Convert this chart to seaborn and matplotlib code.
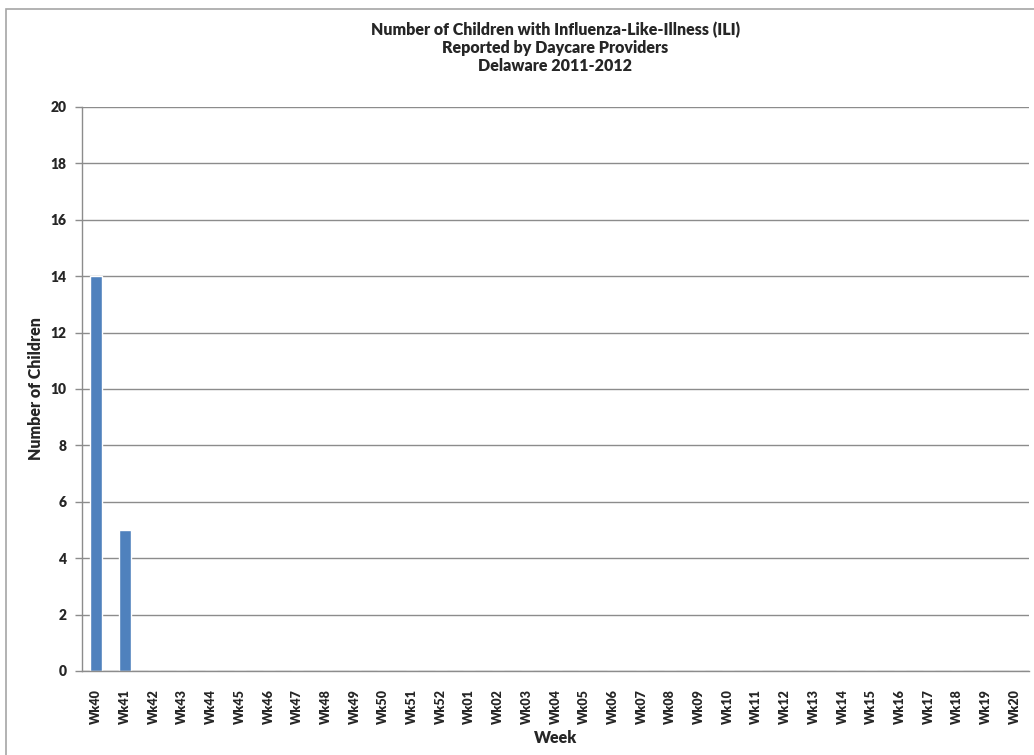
import pandas as pd
import matplotlib.pyplot as plt
import matplotlib.patches as mpatches
import seaborn as sns

sns.set_theme(style="white")
plt.rcParams['font.family'] = ['Lato', 'DejaVu Sans']

# dane: tygodnie sezonu 2011-2012
weeks = ['Wk40', 'Wk41', 'Wk42', 'Wk43', 'Wk44', 'Wk45', 'Wk46', 'Wk47', 'Wk48',
         'Wk49', 'Wk50', 'Wk51', 'Wk52', 'Wk01', 'Wk02', 'Wk03', 'Wk04', 'Wk05',
         'Wk06', 'Wk07', 'Wk08', 'Wk09', 'Wk10', 'Wk11', 'Wk12', 'Wk13', 'Wk14',
         'Wk15', 'Wk16', 'Wk17', 'Wk18', 'Wk19', 'Wk20']
children = [14, 5] + [0] * 31
y_ticks = list(range(0, 21, 2))

df = pd.DataFrame({'week': weeks, 'children': children})

fig = plt.figure(figsize=(10.34, 7.55), dpi=100)
# ramka wykresu jak w Excelu
fig.patches.append(mpatches.Rectangle((6 / 1034, -0.05), 1.1, 1 - 9 / 755 + 0.05,
                                      transform=fig.transFigure, fill=False,
                                      edgecolor='#A6A6A6', linewidth=1.2))
ax = fig.add_axes([82 / 1034, 1 - 671 / 755, 947 / 1034, 564 / 755])

sns.barplot(data=df, x='week', y='children', color='#4F81BD', width=0.42,
            saturation=1, ax=ax)

ax.set_ylim(0, 20)
ax.set_yticks(y_ticks)
ax.yaxis.grid(True, color='#8C8C8C', linewidth=1)
ax.set_axisbelow(True)
for s in ['top', 'right']:
    ax.spines[s].set_visible(False)
for s in ['left', 'bottom']:
    ax.spines[s].set_color('#8C8C8C')
    ax.spines[s].set_linewidth(1)

ax.tick_params(axis='y', which='major', left=True, length=5, width=1,
               color='#8C8C8C', labelsize=10, pad=6)
ax.tick_params(axis='x', bottom=False, labelsize=9, pad=7)
plt.setp(ax.get_xticklabels(), rotation=90, fontweight='heavy')
plt.setp(ax.get_yticklabels(), fontweight='heavy')

ax.set_xlabel('Week', fontsize=11.5, fontweight='heavy', labelpad=4)
ax.set_ylabel('Number of Children', fontsize=11.5, fontweight='heavy', labelpad=5)
ax.set_title('Number of Children with Influenza-Like-Illness (ILI)\n'
             'Reported by Daycare Providers\nDelaware 2011-2012',
             fontsize=11.5, fontweight='heavy', pad=26, linespacing=1.15)

fig.savefig('out.png', dpi=100)
